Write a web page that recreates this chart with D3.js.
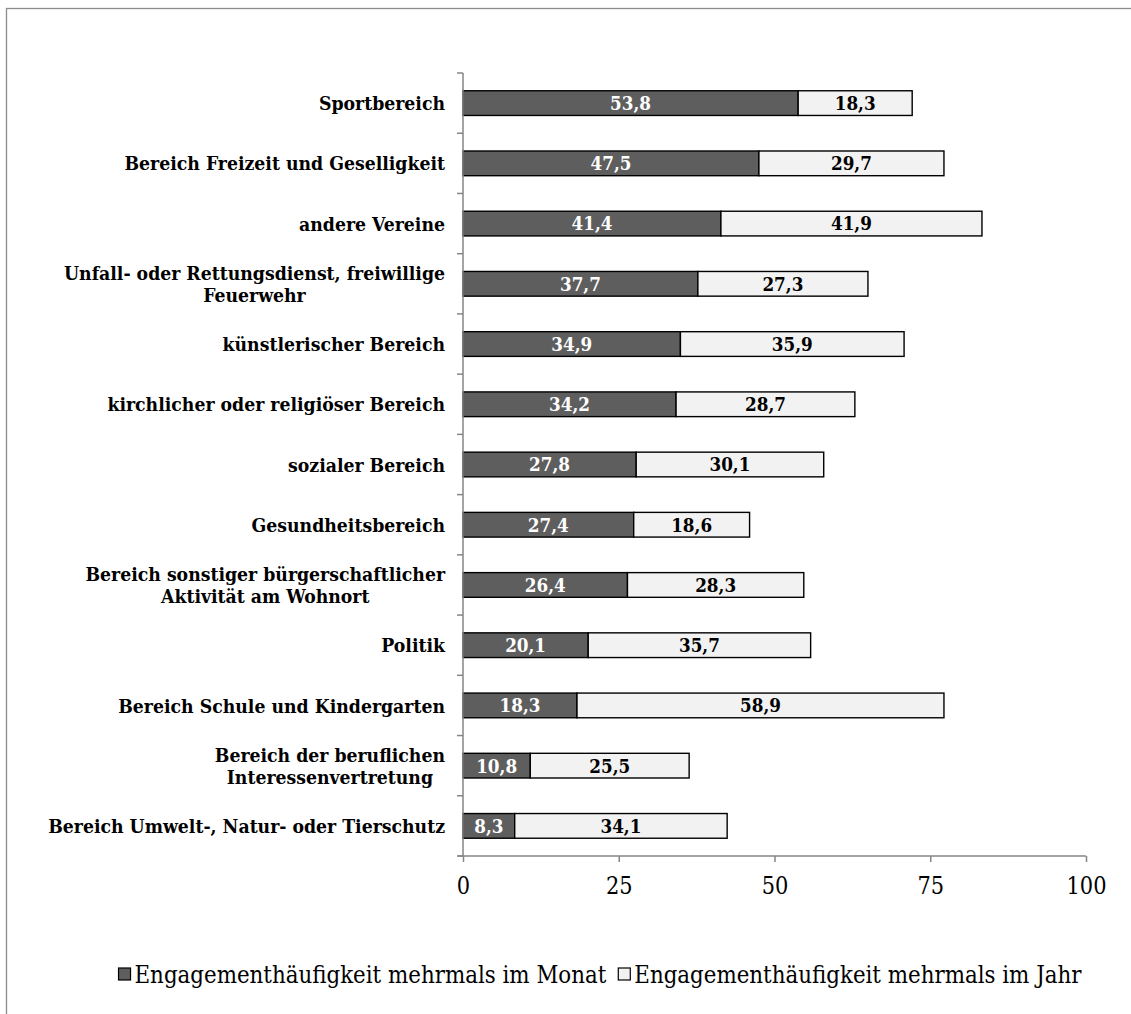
<!DOCTYPE html>
<html>
<head>
<meta charset="utf-8">
<script src="https://cdn.jsdelivr.net/npm/d3@7"></script>
<style>
  html, body { margin: 0; padding: 0; background: #fff; }
  svg { display: block; }
</style>
</head>
<body>
<svg id="chart" width="1131" height="1014"></svg>
<script>
// Categories (top to bottom), each split into its display lines
const categories = [
  ["Sportbereich"],
  ["Bereich Freizeit und Geselligkeit"],
  ["andere Vereine"],
  ["Unfall- oder Rettungsdienst, freiwillige", "Feuerwehr"],
  ["künstlerischer Bereich"],
  ["kirchlicher oder religiöser Bereich"],
  ["sozialer Bereich"],
  ["Gesundheitsbereich"],
  ["Bereich sonstiger bürgerschaftlicher", "Aktivität am Wohnort"],
  ["Politik"],
  ["Bereich Schule und Kindergarten"],
  ["Bereich der beruflichen", "Interessenvertretung"],
  ["Bereich Umwelt-, Natur- oder Tierschutz"]
];

// Share engaged several times a month (%)
const monthly = [53.8, 47.5, 41.4, 37.7, 34.9, 34.2, 27.8, 27.4, 26.4, 20.1, 18.3, 10.8, 8.3];
// Share engaged several times a year (%)
const yearly  = [18.3, 29.7, 41.9, 27.3, 35.9, 28.7, 30.1, 18.6, 28.3, 35.7, 58.9, 25.5, 34.1];

const seriesNames = ["Engagementhäufigkeit mehrmals im Monat", "Engagementhäufigkeit mehrmals im Jahr"];
const xTicks = [0, 25, 50, 75, 100];

const fmt = v => v.toFixed(1).replace(".", ",");

const svg = d3.select("#chart");
const serif = "'DejaVu Serif Condensed', 'DejaVu Serif', serif";
const axisColor = "#868686";
const darkFill = "#5e5e5e";
const lightFill = "#f2f2f2";

// Font size that makes `str` span `target` pixels
function fitSize(str, weight, target) {
  const probe = svg.append("text")
    .attr("font-family", serif).attr("font-weight", weight).attr("font-size", 20)
    .text(str);
  const w = probe.node().getComputedTextLength();
  probe.remove();
  return 20 * target / w;
}

// Outer chart frame (runs past the right and bottom edges)
svg.append("rect")
  .attr("x", 6.5).attr("y", 8.5)
  .attr("width", 1140).attr("height", 1020)
  .attr("fill", "none").attr("stroke", "#8c8c8c").attr("stroke-width", 1.3);

const plot = { left: 463, right: 1086, top: 73, bottom: 856 };

const x = d3.scaleLinear().domain([0, 100]).range([plot.left, plot.right]);
const y = d3.scaleBand()
  .domain(d3.range(categories.length))
  .range([plot.top, plot.bottom])
  .paddingInner(0.59).paddingOuter(0.295);

const rows = categories.map((c, i) => ({ i, lines: c, m: monthly[i], j: yearly[i] }));

// Bars: monthly segment, then the yearly segment stacked after it
const g = svg.append("g");
g.selectAll("rect.m").data(rows).join("rect")
  .attr("class", "m")
  .attr("x", x(0)).attr("y", d => y(d.i))
  .attr("width", d => x(d.m) - x(0)).attr("height", y.bandwidth())
  .attr("fill", darkFill).attr("stroke", "#000").attr("stroke-width", 1.4);

g.selectAll("rect.j").data(rows).join("rect")
  .attr("class", "j")
  .attr("x", d => x(d.m)).attr("y", d => y(d.i))
  .attr("width", d => x(d.m + d.j) - x(d.m)).attr("height", y.bandwidth())
  .attr("fill", lightFill).attr("stroke", "#000").attr("stroke-width", 1.4);

// Value labels centred in each segment
const valueSize = fitSize("53,8", "bold", 41);
const valueStyle = sel => sel
  .attr("dy", "0.37em")
  .attr("text-anchor", "middle")
  .attr("font-family", serif).attr("font-weight", "bold").attr("font-size", valueSize);

g.selectAll("text.mv").data(rows).join("text")
  .attr("class", "mv")
  .attr("x", d => (x(0) + x(d.m)) / 2)
  .attr("y", d => y(d.i) + y.bandwidth() / 2)
  .call(valueStyle)
  .attr("fill", "#fff")
  .text(d => fmt(d.m));

g.selectAll("text.jv").data(rows).join("text")
  .attr("class", "jv")
  .attr("x", d => (x(d.m) + x(d.m + d.j)) / 2)
  .attr("y", d => y(d.i) + y.bandwidth() / 2)
  .call(valueStyle)
  .attr("fill", "#000")
  .text(d => fmt(d.j));

// Vertical category axis with ticks between categories
const step = y.step();
svg.append("line")
  .attr("x1", plot.left).attr("x2", plot.left)
  .attr("y1", plot.top).attr("y2", plot.bottom)
  .attr("stroke", axisColor).attr("stroke-width", 1.5);
svg.selectAll("line.ytick").data(d3.range(categories.length + 1)).join("line")
  .attr("class", "ytick")
  .attr("x1", plot.left - 6).attr("x2", plot.left)
  .attr("y1", d => plot.top + d * step).attr("y2", d => plot.top + d * step)
  .attr("stroke", axisColor).attr("stroke-width", 1.5);

// Category labels: right-aligned block, lines centred within the block
const labelRight = 445;
const lineH = 22;
const labelSize = fitSize("Bereich Umwelt-, Natur- oder Tierschutz", "bold", 397);
rows.forEach(d => {
  const t = svg.append("text")
    .attr("font-family", serif).attr("font-weight", "bold").attr("font-size", labelSize)
    .attr("fill", "#000");
  const spans = d.lines.map(l => t.append("tspan").text(l));
  const w = d3.max(spans.map(s => s.node().getComputedTextLength()));
  const cx = labelRight - w / 2;
  const cy = y(d.i) + y.bandwidth() / 2;
  const n = d.lines.length;
  spans.forEach((s, k) => {
    s.attr("x", cx)
     .attr("y", cy + (k - (n - 1) / 2) * lineH)
     .attr("dy", "0.37em")
     .attr("text-anchor", "middle");
  });
});

// Horizontal value axis
const tickSize = fitSize("100", "normal", 40);
const xAxis = svg.append("g")
  .attr("transform", `translate(0,${plot.bottom})`)
  .call(d3.axisBottom(x).tickValues(xTicks).tickSize(6).tickSizeOuter(0).tickPadding(15));
xAxis.select(".domain").attr("stroke", axisColor).attr("stroke-width", 1.5)
  .attr("d", `M${plot.left - 5},0H${plot.right}`);
xAxis.selectAll(".tick line").attr("stroke", axisColor).attr("stroke-width", 1.5);
xAxis.selectAll(".tick text")
  .attr("font-family", serif).attr("font-size", tickSize).attr("fill", "#000");

// Legend, centred under the chart
const legend = svg.append("g").attr("transform", "translate(0,974)");
const items = seriesNames.map((name, k) => ({ name, fill: k === 0 ? darkFill : lightFill }));
const marker = 12, gapM = 4, gapItem = 12;
const legendSize = fitSize(seriesNames[0], "normal", 472);
const texts = items.map(it => legend.append("text")
  .attr("y", 0).attr("dy", "0.36em")
  .attr("font-family", serif).attr("font-size", legendSize).attr("fill", "#000")
  .text(it.name));
const widths = texts.map(t => t.node().getComputedTextLength());
const total = d3.sum(widths) + items.length * (marker + gapM) + gapItem;
let cursor = 600 - total / 2;
items.forEach((it, k) => {
  legend.append("rect")
    .attr("x", cursor).attr("y", -6).attr("width", marker).attr("height", marker)
    .attr("fill", it.fill).attr("stroke", "#000").attr("stroke-width", 1.2);
  texts[k].attr("x", cursor + marker + gapM);
  cursor += marker + gapM + widths[k] + gapItem;
});
</script>
</body>
</html>
